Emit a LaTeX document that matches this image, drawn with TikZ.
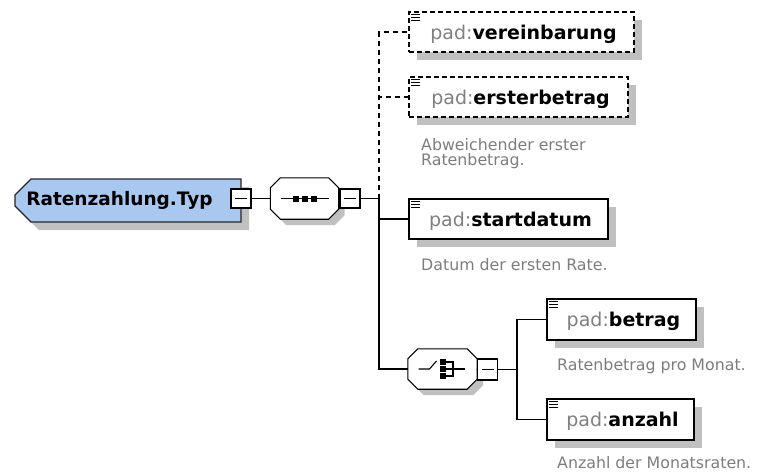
\documentclass[tikz,border=0pt]{standalone}
\usepackage{fontspec}
\setmainfont{DejaVu Sans}
\usetikzlibrary{shapes.misc,shadows}
\definecolor{typblue}{RGB}{168,200,240}
\definecolor{shadowgray}{RGB}{192,192,192}
\definecolor{padgray}{RGB}{128,128,128}
\definecolor{descgray}{RGB}{125,125,125}
\newcommand{\padname}[1]{{\color{padgray}pad:}\textbf{#1}}
% octagon outline round a named node: node, chamfer, dx, dy
\newcommand{\octpath}[4]{([xshift=#3+#2,yshift=#4]#1.north west) -- ([xshift=#3-#2,yshift=#4]#1.north east) -- ([xshift=#3,yshift=#4-#2]#1.north east) -- ([xshift=#3,yshift=#4+#2]#1.south east) -- ([xshift=#3-#2,yshift=#4]#1.south east) -- ([xshift=#3+#2,yshift=#4]#1.south west) -- ([xshift=#3,yshift=#4+#2]#1.south west) -- ([xshift=#3,yshift=#4-#2]#1.north west) -- cycle}
\tikzset{
  conn/.style={draw=black, line width=1.1pt},
  optconn/.style={conn, dash pattern=on 5pt off 4pt},
  shad/.style={drop shadow={shadow xshift=#1, shadow yshift=-#1, fill=shadowgray, opacity=1, draw=none}},
  elem/.style={rectangle, draw=black, line width=1.6pt, fill=white, minimum height=40pt,
    inner sep=0pt, text height=14pt, text depth=0pt,
    font=\fontsize{19}{22}\selectfont, shad=8pt,
    execute at begin node=\hspace*{4pt}},
  optelem/.style={elem, dash pattern=on 5pt off 3pt},
  mainbox/.style={chamfered rectangle, chamfered rectangle corners={north west,south west},
    chamfered rectangle sep=8pt, draw=black!85, line width=1.1pt, fill=typblue,
    minimum width=226pt, minimum height=43pt, inner sep=0pt,
    text height=13.5pt, text depth=4.5pt, font=\fontsize{18.5}{22}\selectfont\bfseries,
    shad=8pt, execute at end node=\hspace*{17pt}},
  octbox/.style={rectangle, draw=none, minimum width=68pt, minimum height=41pt, inner sep=0pt},
  octline/.style={draw=black, line width=1.1pt, fill=white},
  octshadow/.style={fill=shadowgray},
  minusbox/.style={rectangle, draw=black, line width=1.1pt, fill=white,
    minimum width=20pt, minimum height=19pt, inner sep=0pt},
  desc/.style={anchor=base west, inner sep=0pt, text=descgray, align=left,
    font=\fontsize{15.8}{15.7}\selectfont},
  iconline/.style={draw=black, line width=1.2pt},
}
\begin{document}
\begin{tikzpicture}[x=1pt,y=-1pt]
\useasboundingbox (0,0) rectangle (759,472);

% main type
\node[mainbox] (typ) at (128,200.5) {Ratenzahlung.Typ};
\node[minusbox] (m1) at (241,198.5) {};
\draw[conn] ([xshift=-6pt]m1.center) -- ([xshift=6pt]m1.center);

% sequence
\node[octbox] (seq) at (304.5,198.5) {};
\path[octshadow] \octpath{seq}{10pt}{6pt}{-6pt};
\path[octline] \octpath{seq}{10pt}{0pt}{0pt};
\begin{scope}[shift={(seq.center)}]
  \draw[conn] (-24,0) -- (24,0);
  \fill (-12,-3) rectangle (-6,3);
  \fill (-3,-3) rectangle (3,3);
  \fill (6,-3) rectangle (12,3);
\end{scope}
\node[minusbox] (m2) at (350,198.5) {};
\draw[conn] ([xshift=-6pt]m2.center) -- ([xshift=6pt]m2.center);
\coordinate (t0) at (379,198.5);

% elements
\node[optelem, minimum width=225pt] (v) at (521.5,32) {\padname{vereinbarung}};
\node[optelem, minimum width=219pt] (e) at (518.5,97) {\padname{ersterbetrag}};
\node[elem, minimum width=199pt] (s) at (508.5,219) {\padname{startdatum}};

% choice
\node[octbox, minimum width=69pt, minimum height=40pt] (ch) at (442.5,369) {};
\path[octshadow] \octpath{ch}{10pt}{6pt}{-6pt};
\path[octline] \octpath{ch}{10pt}{0pt}{0pt};
\begin{scope}[shift={(ch.center)}]
  \draw[conn] (-24,0) -- (-13,0) -- (-6,-8);
  \fill (-2.5,-10) rectangle (3.5,-4);
  \fill (-2.5,-3) rectangle (3.5,3);
  \fill (-2.5,4) rectangle (3.5,10);
  \draw[conn] (3.5,-7) -- (10.5,-7) -- (10.5,7) -- (3.5,7);
  \draw[conn] (3.5,0) -- (22,0);
\end{scope}
\node[minusbox, minimum height=21pt] (m3) at (487.5,369.5) {};
\draw[conn] ([xshift=-6pt]m3.center) -- ([xshift=6pt]m3.center);
\coordinate (c0) at (517,369.5);

\node[elem, minimum width=149pt, minimum height=41pt] (b) at (621.5,319.5) {\padname{betrag}};
\node[elem, minimum width=147pt, minimum height=41pt] (a) at (620.5,419.5) {\padname{anzahl}};

% icons in element boxes
\foreach \n in {v,e,s,b,a}{
  \draw[iconline] ([xshift=3pt,yshift=-3.5pt]\n.north west) -- ++(9,0);
  \draw[iconline] ([xshift=3pt,yshift=-6.5pt]\n.north west) -- ++(9,0);
  \draw[iconline] ([xshift=3pt,yshift=-9.5pt]\n.north west) -- ++(9,0);
}

% connectors
\draw[conn] (m1.east) -- (seq.west);
\draw[conn] (m2.east) -- (t0);
\draw[optconn] (t0) |- (v.west);
\draw[optconn] (t0) |- (e.west);
\draw[conn] (t0) |- (s.west);
\draw[conn] (t0) |- (ch.west);
\draw[conn] (ch.east) -- (m3.west);
\draw[conn] (m3.east) -- (c0);
\draw[conn] (c0) |- (b.west);
\draw[conn] (c0) |- (a.west);

% descriptions
\node[desc] (de) at (421,165.7) {Abweichender erster\\Ratenbetrag.};
\node[desc] (ds) at (421,270.7) {Datum der ersten Rate.};
\node[desc] (db) at (557,370) {Ratenbetrag pro Monat.};
\node[desc] (da) at (557,468.3) {Anzahl der Monatsraten.};
\end{tikzpicture}
\end{document}
